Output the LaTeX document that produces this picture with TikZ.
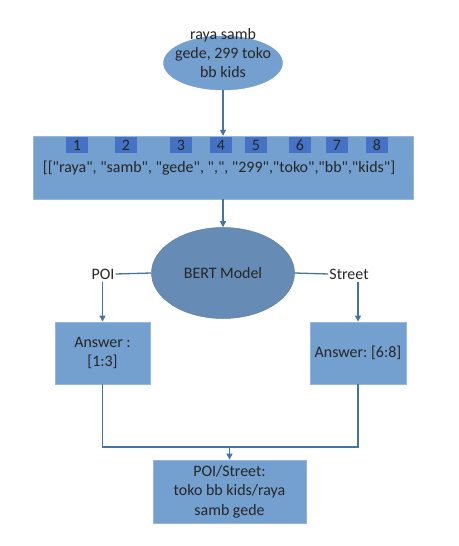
\documentclass[tikz,border=0pt]{standalone}
\usepackage{fontspec}
\setmainfont{Carlito}[Ligatures=TeXOff]
\usetikzlibrary{shapes.geometric,arrows.meta}
\definecolor{boxfill}{RGB}{116,160,207}
\definecolor{boxline}{RGB}{150,182,218}
\definecolor{bertfill}{RGB}{102,140,181}
\definecolor{sqfill}{RGB}{68,114,196}
\definecolor{lnc}{RGB}{68,116,166}
\tikzset{
  every node/.style={font=\fontsize{16}{19.5}\selectfont\frenchspacing, text=black!85},
  bx/.style={draw=boxline, line width=0.8bp, fill=boxfill, inner sep=0},
  sq/.style={fill=sqfill, minimum width=22bp, minimum height=16bp, inner sep=0, font=\fontsize{16}{16}\selectfont},
  conn/.style={draw=lnc, line width=1.3bp},
  arr/.style={conn, -{Triangle[length=6bp,width=6bp]}},
  lbl/.style={inner sep=1bp, align=center}
}
\begin{document}
\begin{tikzpicture}[x=1bp,y=-1bp]
\useasboundingbox (0,0) rectangle (459,546);
% top ellipse
\node[ellipse, fill=boxfill, draw=boxfill, minimum width=119bp, minimum height=54bp, inner sep=0] (inp) at (223,63) {};
\node[lbl, align=center] (inptxt) at (223,53) {raya samb\\gede, 299 toko\\bb kids};
% token box
\path[bx] (33,136) rectangle (413,199);
\node[minimum width=380bp, minimum height=63bp, inner sep=0] (tok) at (223,167.5) {};
\node (toktxt) at (219,168) {[["raya", "samb", "gede", ",", "299","toko","bb","kids"]};
\foreach \i/\x in {1/77,2/126,3/181,4/221,5/256,6/300,7/337,8/377}{
  \node[sq] (s\i) at (\x,145) {\i};
}
% BERT
\node[ellipse, fill=bertfill, draw=bertfill!90!black, line width=0.5bp, minimum width=143bp, minimum height=91bp, inner sep=0] (bert) at (223,273) {BERT Model};
\node[lbl] (poi) at (103,274) {POI};
\node[lbl] (street) at (349,274) {Street};
% answer boxes
\node[bx, minimum width=95bp, minimum height=62bp, align=center] (la) at (102.5,353) {Answer :\\{}[1:3]};
\node[bx, minimum width=96bp, minimum height=62bp] (ra) at (358,353) {Answer: [6:8]};
% final box
\node[bx, minimum width=153bp, minimum height=63bp, align=center] (fin) at (229.5,491.5) {POI/Street:\\toko bb kids/raya\\samb gede};
% connectors
\draw[arr] (inp.south) -- (tok.north);
\draw[arr] (tok.south) -- (bert.north);
\draw[conn] (poi.east) -- (bert.west);
\draw[conn] (bert.east) -- (street.west);
\coordinate (poib) at (102.5,282);
\coordinate (strb) at (358,282);
\draw[arr] (poib) -- (la.north);
\draw[arr] (strb) -- (ra.north);
\coordinate (join) at (229.5,447);
\draw[conn] (la.south) |- (join) -| (ra.south);
\draw[arr] (join) -- (fin.north);
\end{tikzpicture}
\end{document}
